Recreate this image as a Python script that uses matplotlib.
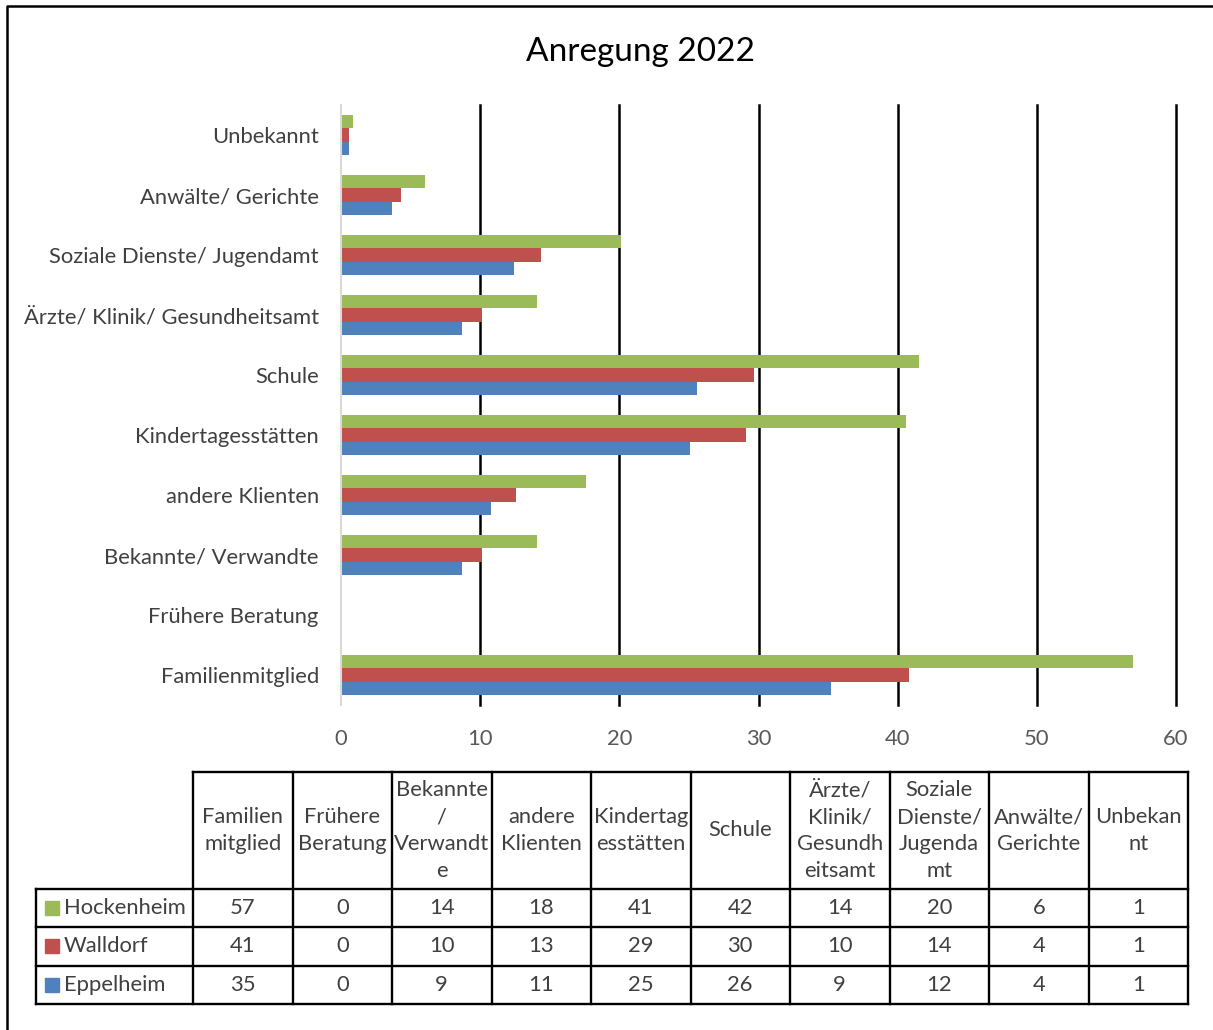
import numpy as np
import matplotlib.pyplot as plt
from matplotlib.patches import Rectangle

plt.rcParams['font.family'] = ['Lato', 'DejaVu Sans']

# categories, bottom to top as they appear on the chart
kategorien = ["Familienmitglied", "Frühere Beratung", "Bekannte/ Verwandte",
              "andere Klienten", "Kindertagesstätten", "Schule",
              "Ärzte/ Klinik/ Gesundheitsamt", "Soziale Dienste/ Jugendamt",
              "Anwälte/ Gerichte", "Unbekannt"]
# header texts of the data table (wrapped like the cells)
kopf = ["Familien\nmitglied", "Frühere\nBeratung", "Bekannte\n/\nVerwandt\ne",
        "andere\nKlienten", "Kindertag\nesstätten", "Schule",
        "Ärzte/\nKlinik/\nGesundh\neitsamt", "Soziale\nDienste/\nJugenda\nmt",
        "Anwälte/\nGerichte", "Unbekan\nnt"]

eppelheim = [35.2, 0, 8.7, 10.8, 25.1, 25.6, 8.7, 12.4, 3.7, 0.55]
walldorf = [40.8, 0, 10.1, 12.6, 29.1, 29.7, 10.1, 14.4, 4.3, 0.6]
hockenheim = [56.9, 0, 14.1, 17.6, 40.6, 41.5, 14.1, 20.1, 6.0, 0.85]

serien = [("Eppelheim", eppelheim, "#4F81BD"),
          ("Walldorf", walldorf, "#C0504D"),
          ("Hockenheim", hockenheim, "#9BBB59")]

W, H = 1213, 1030
fs = 15.8
fig = plt.figure(figsize=(W / 100, H / 100), dpi=100)

# bar chart
ax = fig.add_axes([341 / W, 1 - 705 / H, 835 / W, 600 / H])
y = np.arange(len(kategorien))
h = 0.222
for i, (name, werte, farbe) in enumerate(serien):
    ax.barh(y + (i - 1) * h, werte, height=h, color=farbe, zorder=3)

ax.set_xlim(0, 60)
ax.set_ylim(-0.5, len(kategorien) - 0.5)
ax.set_xticks(np.arange(0, 61, 10))
ax.set_yticks(y)
ax.set_yticklabels(kategorien, fontsize=fs, color="#404040")
ax.tick_params(axis="x", length=0, pad=17, labelsize=fs, labelcolor="#595959")
ax.tick_params(axis="y", length=0, pad=16)
for s in ["top", "right", "bottom"]:
    ax.spines[s].set_visible(False)
ax.spines["left"].set_color("#D9D9D9")
ax.spines["left"].set_linewidth(1.5)
ax.spines["left"].set_zorder(4)
for xv in range(10, 61, 10):
    ax.axvline(xv, color="black", lw=1.8, zorder=2, clip_on=False)

fig.text(640 / W, 1 - 52 / H, "Anregung 2022", ha="center", va="center",
         fontsize=24, color="black")

# data table underneath, drawn in pixel coordinates
tb = fig.add_axes([0, 0, 1, 1])
tb.set_xlim(0, W)
tb.set_ylim(H, 0)
tb.axis("off")

x0, x1 = 36, 193
cw = (1188 - x1) / len(kategorien)
ytop, yhead = 772, 889
rh = 38.3
lw = 1.7

# header cells
for j, txt in enumerate(kopf):
    cx = x1 + (j + 0.5) * cw
    tb.text(cx, (ytop + yhead) / 2, txt, ha="center", va="center",
            fontsize=fs, color="#404040", linespacing=1.42,
            multialignment="center")
# row labels with legend keys, values formatted from the series
for r, (name, werte, farbe) in enumerate(reversed(serien)):
    cy = yhead + (r + 0.5) * rh
    tb.add_patch(Rectangle((45, cy - 7), 14, 14, color=farbe))
    tb.text(64, cy, name, ha="left", va="center", fontsize=fs, color="#404040")
    for j, v in enumerate(werte):
        tb.text(x1 + (j + 0.5) * cw, cy, f"{v:.0f}", ha="center", va="center",
                fontsize=fs, color="#404040")

ybot = yhead + 3 * rh
# grid lines of the table
tb.plot([x1, 1188], [ytop, ytop], color="black", lw=lw)
for r in range(4):
    yy = yhead + r * rh
    tb.plot([x0, 1188], [yy, yy], color="black", lw=lw)
tb.plot([x0, x0], [yhead, ybot], color="black", lw=lw)
for j in range(len(kategorien) + 1):
    xx = x1 + j * cw
    tb.plot([xx, xx], [ytop, ybot], color="black", lw=lw)

# frame around the chart area
tb.plot([7, 7, W], [H, 6, 6], color="black", lw=1.8)

plt.savefig("out.png", dpi=100)
